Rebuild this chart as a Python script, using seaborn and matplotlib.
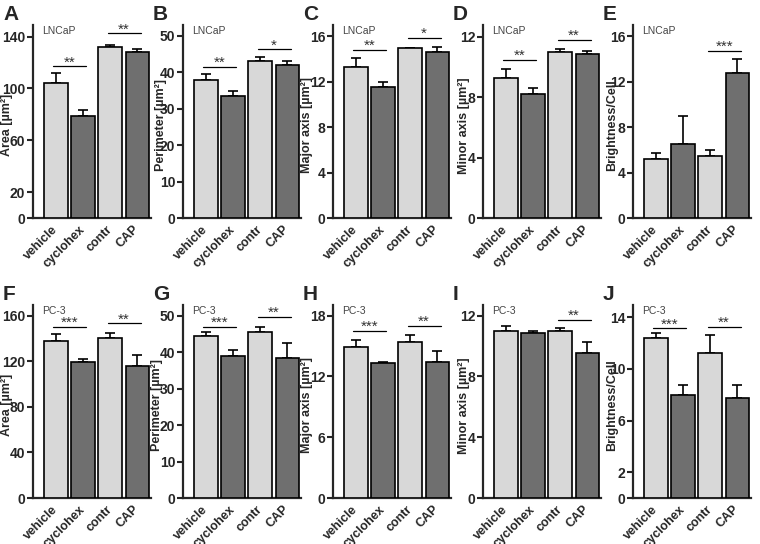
import numpy as np
import pandas as pd
import seaborn as sns
import matplotlib.pyplot as plt
from matplotlib.transforms import ScaledTranslation

sns.set_style("ticks")
plt.rcParams["font.family"] = ["Liberation Sans", "DejaVu Sans"]

groups = ["vehicle", "cyclohex", "contr", "CAP"]
palette = {"vehicle": "#d8d8d8", "cyclohex": "#6f6f6f", "contr": "#d8d8d8", "CAP": "#6f6f6f"}

letters = ["A", "B", "C", "D", "E", "F", "G", "H", "I", "J"]
cell_lines = ["LNCaP"] * 5 + ["PC-3"] * 5
ylabels = ["Area [µm²]", "Perimeter [µm²]", "Major axis [µm²]", "Minor axis [µm²]", "Brightness/Cell"] * 2

# means and upper SEM
means_A = [104, 79, 132, 128]
sem_A = [8, 4, 1.5, 2.5]
means_B = [37.9, 33.4, 43.1, 42.0]
sem_B = [1.7, 1.6, 1.2, 1.0]
means_C = [13.3, 11.55, 14.95, 14.62]
sem_C = [0.8, 0.45, 0.05, 0.4]
means_D = [9.25, 8.23, 10.96, 10.83]
sem_D = [0.64, 0.4, 0.23, 0.22]
means_E = [5.2, 6.55, 5.5, 12.77]
sem_E = [0.55, 2.4, 0.52, 1.23]
means_F = [138, 119.7, 140, 116.2]
sem_F = [6.3, 2.0, 5.2, 9.3]
means_G = [44.3, 38.8, 45.5, 38.4]
sem_G = [1.3, 1.9, 1.4, 4.2]
means_H = [14.9, 13.3, 15.4, 13.4]
sem_H = [0.7, 0.15, 0.7, 1.1]
means_I = [11.0, 10.88, 11.0, 9.57]
sem_I = [0.34, 0.12, 0.17, 0.68]
means_J = [12.4, 7.94, 11.25, 7.76]
sem_J = [0.4, 0.78, 1.38, 0.96]

# significance bars: (first group index, height, label)
sig_A = [(0, 117, "**"), (2, 142.5, "**")]
sig_B = [(0, 41.6, "**"), (2, 46.3, "*")]
sig_C = [(0, 14.83, "**"), (2, 15.85, "*")]
sig_D = [(0, 10.46, "**"), (2, 11.78, "**")]
sig_E = [(2, 14.74, "***")]
sig_F = [(0, 150.4, "***"), (2, 153.3, "**")]
sig_G = [(0, 47.0, "***"), (2, 49.7, "**")]
sig_H = [(0, 16.5, "***"), (2, 17.0, "**")]
sig_I = [(2, 11.7, "**")]
sig_J = [(0, 13.14, "***"), (2, 13.28, "**")]

yticks_A = [0, 20, 60, 100, 140]
yticks_B = [0, 10, 20, 30, 40, 50]
yticks_C = [0, 4, 8, 12, 16]
yticks_D = [0, 4, 8, 12]
yticks_E = [0, 4, 8, 12, 16]
yticks_F = [0, 40, 80, 120, 160]
yticks_G = [0, 10, 20, 30, 40, 50]
yticks_H = [0, 6, 12, 18]
yticks_I = [0, 4, 8, 12]
yticks_J = [0, 2, 6, 10, 14]
ytops = [149, 53, 17, 12.77, 17, 169.4, 52.9, 19.06, 12.7, 14.95]

all_means = [means_A, means_B, means_C, means_D, means_E, means_F, means_G, means_H, means_I, means_J]
all_sems = [sem_A, sem_B, sem_C, sem_D, sem_E, sem_F, sem_G, sem_H, sem_I, sem_J]
all_sigs = [sig_A, sig_B, sig_C, sig_D, sig_E, sig_F, sig_G, sig_H, sig_I, sig_J]
all_yticks = [yticks_A, yticks_B, yticks_C, yticks_D, yticks_E,
              yticks_F, yticks_G, yticks_H, yticks_I, yticks_J]

W, H = 760, 544
fig = plt.figure(figsize=(W / 100, H / 100), dpi=100)

lefts = [33, 183, 333, 483, 633]
tops = [25, 305]
ax_w, ax_h = 118, 193
label_gap = [20, 16, 20, 13, 15, 20, 20, 20, 13, 15]

for k in range(10):
    row, col = divmod(k, 5)
    x0, y0 = lefts[col], tops[row]
    ax = fig.add_axes([x0 / W, 1 - (y0 + ax_h) / H, ax_w / W, ax_h / H])

    df = pd.DataFrame({"group": groups, "value": all_means[k]})
    sns.barplot(data=df, x="group", y="value", hue="group", palette=palette,
                order=groups, edgecolor="black", linewidth=1.2, width=0.88,
                errorbar=None, legend=False, ax=ax, zorder=3)
    ax.errorbar(np.arange(4), all_means[k], yerr=[np.zeros(4), all_sems[k]],
                fmt="none", ecolor="black", elinewidth=1.2, capsize=3.5,
                capthick=1.2, zorder=2)

    for i, yy, lab in all_sigs[k]:
        ax.plot([i - 0.1, i + 1.12], [yy, yy], color="black", lw=0.9, zorder=4)
        ax.annotate(lab, xy=(i + 0.51, yy), xytext=(0, 0), textcoords="offset points",
                    ha="center", va="baseline", fontsize=11, color="#333333")

    ax.set_xlim(-0.85, 3.5)
    ax.set_ylim(0, ytops[k])
    ax.set_yticks(all_yticks[k])
    ax.set_yticklabels([str(t) for t in all_yticks[k]], fontsize=10, fontweight="bold")
    ax.set_xticks(range(4))
    ax.set_xticklabels(groups, rotation=45, ha="right", va="center", rotation_mode="anchor",
                       fontsize=9, fontweight="bold")
    shift = ScaledTranslation(10 / 100, 0, fig.dpi_scale_trans)
    for lbl in ax.get_xticklabels():
        lbl.set_transform(lbl.get_transform() + shift)
    ax.tick_params(axis="x", length=0, pad=7)
    ax.tick_params(axis="y", length=4, width=1.5, pad=1.5)
    ax.set_xlabel("")
    ax.set_ylabel(ylabels[k], fontsize=9, fontweight="bold")
    ax.yaxis.set_label_coords(-label_gap[k] / ax_w, 0.48)

    for s in ["top", "right"]:
        ax.spines[s].set_visible(False)
    for s in ["left", "bottom"]:
        ax.spines[s].set_linewidth(1.6)

    ax.text(0.08, 0.995, cell_lines[k], transform=ax.transAxes, ha="left", va="top",
            fontsize=7.5, color="#444444")
    fig.text((x0 - 30) / W, 1 - (y0 - 20) / H, letters[k], ha="left", va="top",
             fontsize=15, fontweight="bold")

fig.savefig("out.png", dpi=100)
